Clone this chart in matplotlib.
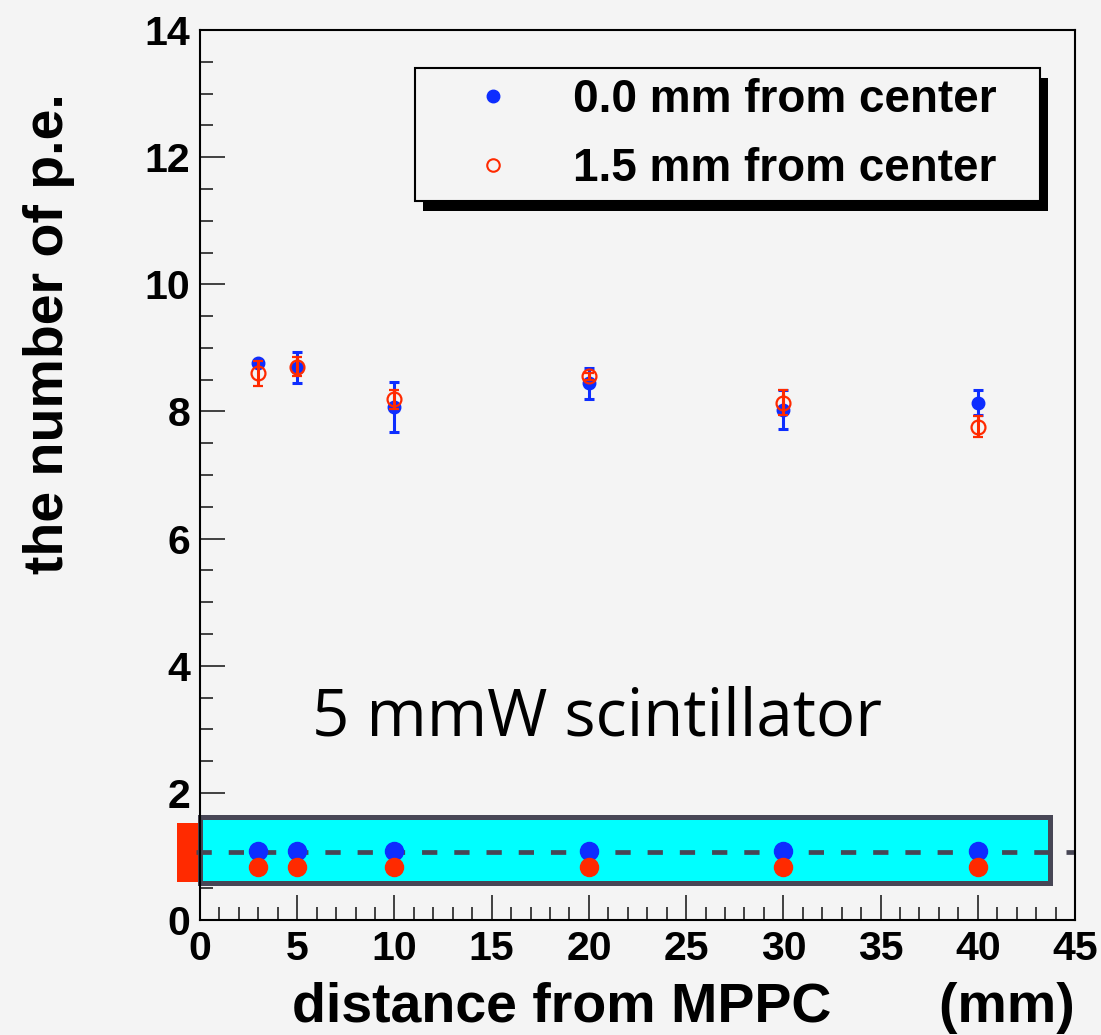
"""Light yield vs distance from MPPC, 5 mmW scintillator."""

import matplotlib
matplotlib.use("Agg")
import matplotlib.pyplot as plt
from matplotlib.lines import Line2D
from matplotlib.patches import Rectangle
from matplotlib.ticker import MultipleLocator
from matplotlib.transforms import IdentityTransform

# ── Data ─────────────────────────────────────────────────────────────────────

distance = [3, 5, 10, 20, 30, 40]                      # mm from MPPC
pe_center = [8.76, 8.69, 8.07, 8.44, 8.03, 8.14]       # 0.0 mm from center
err_center = [0.04, 0.24, 0.40, 0.24, 0.30, 0.20]
pe_offset = [8.60, 8.70, 8.19, 8.55, 8.14, 7.76]       # 1.5 mm from center
err_offset = [0.20, 0.15, 0.15, 0.06, 0.20, 0.17]

labels = ["0.0 mm from center", "1.5 mm from center"]

# ── Styling ──────────────────────────────────────────────────────────────────

BG = "#f4f4f4"
BLUE = "#0d2dff"
RED = "#ff2a00"
CYAN = "#00ffff"
DARK = "#474655"
FONT = "Liberation Sans"

plt.rcParams["font.family"] = FONT
plt.rcParams["font.weight"] = "bold"
plt.rcParams["lines.scale_dashes"] = False

fig = plt.figure(figsize=(11.01, 10.35), dpi=100, facecolor=BG)
ax = fig.add_axes([200 / 1101, 115 / 1035, 875 / 1101, 890 / 1035])
ax.set_facecolor(BG)
ax.set_xlim(0, 45)
ax.set_ylim(0, 14)

for side in ("left", "right", "top", "bottom"):
    ax.spines[side].set_linewidth(1.5)
    ax.spines[side].set_color("black")

ax.xaxis.set_major_locator(MultipleLocator(5))
ax.xaxis.set_minor_locator(MultipleLocator(1))
ax.yaxis.set_major_locator(MultipleLocator(2))
ax.yaxis.set_minor_locator(MultipleLocator(0.5))
ax.tick_params(which="both", direction="in", top=False, right=False,
               width=1.2, color="#222222")
ax.tick_params(which="major", length=18, labelsize=29.5, pad=7)
ax.tick_params(which="minor", length=9.5)
for lab in ax.get_xticklabels() + ax.get_yticklabels():
    lab.set_fontweight("bold")

# ── Measurements ─────────────────────────────────────────────────────────────

ax.errorbar(distance, pe_center, yerr=err_center, fmt="o", color=BLUE,
            ms=9, elinewidth=2.2, capsize=3.3, capthick=2.2, zorder=3)
ax.errorbar(distance, pe_offset, yerr=err_offset, fmt="o", color=RED,
            mfc="none", mec=RED, mew=1.6, ms=10, elinewidth=2.2,
            capsize=3.3, capthick=2.2, zorder=4)

# ── Scintillator sketch ──────────────────────────────────────────────────────

ax.add_patch(Rectangle((-1.2, 0.6), 1.2, 0.92, facecolor=RED,
                       edgecolor="none", clip_on=False, zorder=2))
ax.add_patch(Rectangle((0, 0.582), 43.7, 1.046, facecolor=CYAN,
                       edgecolor=DARK, linewidth=3.6, clip_on=False,
                       zorder=2.1))
ax.plot([-0.2, 45], [1.07, 1.07], color=DARK, lw=3.4, dashes=(11, 12.2),
        clip_on=False, zorder=2.2)
ax.plot(distance, [1.085] * len(distance), "o", color=BLUE, ms=13,
        zorder=2.3)
ax.plot(distance, [0.83] * len(distance), "o", color=RED, ms=13,
        zorder=2.3)

ax.text(5.76, 2.91, "5 mmW scintillator", fontfamily="Open Sans",
        fontweight="normal", fontsize=47, ha="left", va="baseline")

# ── Labels ───────────────────────────────────────────────────────────────────

ax.set_xlabel("distance from MPPC       (mm)", loc="right", fontsize=40,
              fontweight="bold", labelpad=10.5)
ax.set_ylabel("the number of p.e.", fontsize=40, fontweight="bold")
ax.yaxis.set_label_coords(-0.143, 0.659)

# ── Legend ───────────────────────────────────────────────────────────────────

handles = [
    Line2D([], [], ls="none", marker="o", color=BLUE, ms=9),
    Line2D([], [], ls="none", marker="o", mfc="none", mec=RED, mew=1.5,
           ms=9),
]
leg = ax.legend(handles, labels, loc="upper left",
                bbox_to_anchor=(0.2457, 0.806, 0.7143, 0.1517),
                mode="expand", prop={"family": FONT, "weight": "bold",
                                     "size": 33},
                frameon=True, fancybox=False, edgecolor="black",
                facecolor=BG, framealpha=1, borderpad=0.22,
                labelspacing=0.545, handlelength=2.97, handletextpad=0.26,
                borderaxespad=0)
leg.get_frame().set_linewidth(1.5)

fig.canvas.draw()
bb = leg.get_window_extent()
ax.add_artist(Rectangle((bb.x0 + 8, bb.y0 - 10), bb.width, bb.height,
                        facecolor="black", edgecolor="none",
                        transform=IdentityTransform(), clip_on=False,
                        zorder=4.9))

fig.savefig("out.png", dpi=100, facecolor=BG)
